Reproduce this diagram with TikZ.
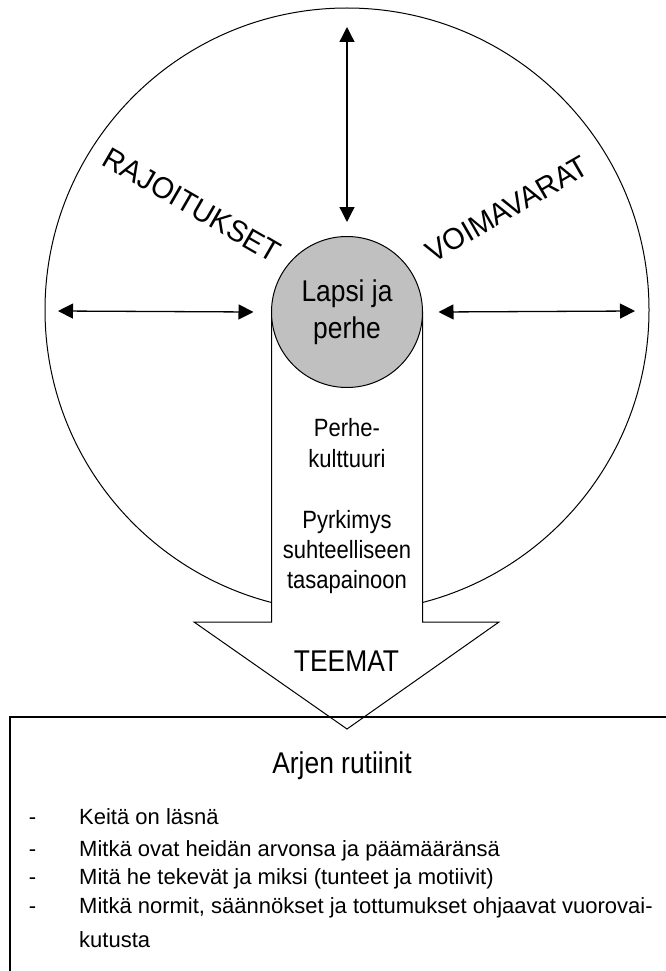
\documentclass[tikz,border=0pt]{standalone}
\usepackage{fontspec}
\setmainfont{Liberation Sans}[FakeStretch=0.88]
\newfontfamily\wordart{Liberation Sans}[FakeStretch=0.96]
\newfontfamily\listfont{Liberation Sans}
\usetikzlibrary{arrows.meta}
\definecolor{lapsigray}{RGB}{192,192,192}
\tikzset{
  twoway/.style={{Triangle[length=15pt,width=15pt]}-{Triangle[length=15pt,width=15pt]}, line width=1.3pt},
  label30/.style={font=\fontsize{30}{36}\selectfont},
  label25/.style={font=\fontsize{25}{30}\selectfont, anchor=base},
  item22/.style={font=\listfont\fontsize{22}{26}\selectfont, anchor=base west, inner sep=0pt}
}

\begin{document}
\begin{tikzpicture}[x=1pt,y=-1pt]
\useasboundingbox (0,0) rectangle (665,971);
\draw[line width=1pt] (347,310) circle (302pt);
\draw[line width=1pt, fill=white] (271.5,312) -- (271.5,622) -- (194,622) -- (347,729)
   -- (499,622) -- (422.5,622) -- (422.5,312) -- cycle;
\node[circle, draw, line width=1pt, fill=lapsigray, minimum size=151pt, inner sep=0pt,
   align=center, font=\fontsize{30}{37}\selectfont] (lapsi) at (347,312) {Lapsi ja\\perhe};
\coordinate (ylos) at (347,27);
\coordinate (vasen) at (58,311);
\coordinate (oikea) at (635,311);
\draw[twoway] (ylos) -- ([yshift=14pt]lapsi.north);
\draw[twoway] (vasen) -- ([xshift=-17.5pt]lapsi.west);
\draw[twoway] ([xshift=15.5pt]lapsi.east) -- (oikea);
\node[rotate=-30, font=\wordart\fontsize{30}{36}\selectfont] (rajoitukset) at (192,205) {RAJOITUKSET};
\node[rotate=30, font=\wordart\fontsize{30}{36}\selectfont] (voimavarat) at (507,209) {VOIMAVARAT};
\foreach \y/\rivi [count=\i] in {436.7/Perhe-, 467.7/kulttuuri, 528.3/Pyrkimys, 558.3/suhteelliseen, 588.3/tasapainoon}
   \node[label25] (nuoli\i) at (347,\y) {\rivi};
\node[label30, anchor=base] (teemat) at (346.5,671.7) {TEEMAT};
\draw[line width=1.3pt] (10,717) rectangle (700,1000);
\node[label30, anchor=base] (arki) at (342,773) {Arjen rutiinit};
\foreach \y/\rivi [count=\i] in {824/Keitä on läsnä, 856/Mitkä ovat heidän arvonsa ja päämääränsä,
   884/Mitä he tekevät ja miksi (tunteet ja motiivit), 913/{Mitkä normit, säännökset ja tottumukset ohjaavat vuorovai-}}
{
   \node[item22, anchor=base] (viiva\i) at (32.5,\y) {-};
   \node[item22] (kohta\i) at (79,\y) {\rivi};
}
\node[item22] (kohta5) at (79,947) {kutusta};
\end{tikzpicture}
\end{document}
